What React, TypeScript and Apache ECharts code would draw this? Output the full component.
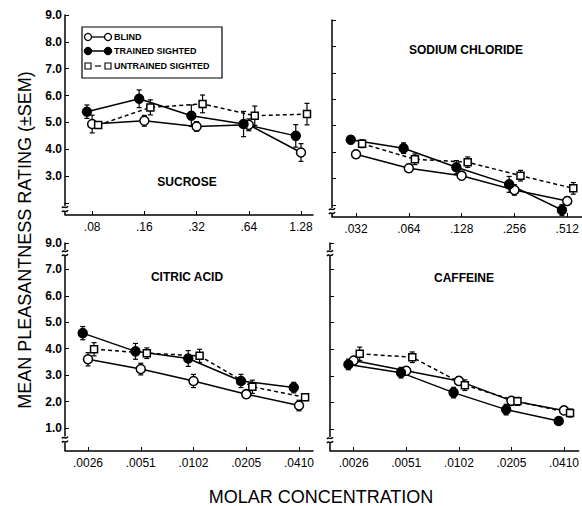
import React, { useEffect, useRef } from 'react';
import * as echarts from 'echarts';

// ---- Data ----
const sucroseLabels = ['.08', '.16', '.32', '.64', '1.28'];
const sodiumLabels = ['.032', '.064', '.128', '.256', '.512'];
const citricLabels = ['.0026', '.0051', '.0102', '.0205', '.0410'];
const caffeineLabels = ['.0026', '.0051', '.0102', '.0205', '.0410'];

const sucroseBlind = [4.94, 5.06, 4.85, 4.91, 3.88];
const sucroseBlindSem = [0.33, 0.2, 0.18, 0.22, 0.33];
const sucroseTrained = [5.4, 5.88, 5.25, 4.94, 4.5];
const sucroseTrainedSem = [0.25, 0.33, 0.4, 0.47, 0.42];
const sucroseUntrained = [4.9, 5.56, 5.69, 5.25, 5.31];
const sucroseUntrainedSem = [0.1, 0.28, 0.33, 0.36, 0.4];

const sodiumBlind = [3.92, 3.39, 3.11, 2.57, 2.15];
const sodiumBlindSem = [0.15, 0.15, 0.15, 0.2, 0.15];
const sodiumTrained = [4.47, 4.15, 3.43, 2.78, 1.81];
const sodiumTrainedSem = [0.15, 0.2, 0.25, 0.3, 0.2];
const sodiumUntrained = [4.32, 3.73, 3.62, 3.11, 2.63];
const sodiumUntrainedSem = [0.15, 0.2, 0.2, 0.2, 0.22];

const citricBlind = [3.6, 3.23, 2.78, 2.28, 1.85];
const citricBlindSem = [0.25, 0.22, 0.25, 0.15, 0.2];
const citricTrained = [4.59, 3.9, 3.63, 2.78, 2.53];
const citricTrainedSem = [0.25, 0.3, 0.3, 0.25, 0.2];
const citricUntrained = [3.98, 3.83, 3.73, 2.56, 2.16];
const citricUntrainedSem = [0.25, 0.2, 0.25, 0.25, 0.12];

const caffeineBlind = [3.58, 3.19, 2.81, 2.06, 1.7];
const caffeineBlindSem = [0.15, 0.15, 0.15, 0.15, 0.12];
const caffeineTrained = [3.43, 3.12, 2.37, 1.73, 1.3];
const caffeineTrainedSem = [0.2, 0.2, 0.2, 0.2, 0.1];
const caffeineUntrained = [3.83, 3.7, 2.65, 2.04, 1.6];
const caffeineUntrainedSem = [0.25, 0.2, 0.2, 0.15, 0.15];

// ---- Layout ----
const FONT = '"Liberation Sans", Arial, Helvetica, sans-serif';
const OFFSETS = { trained: -0.1, blind: 0, untrained: 0.115 };

const panels = [
  {
    title: 'SUCROSE', labels: sucroseLabels,
    blind: sucroseBlind, blindSem: sucroseBlindSem,
    trained: sucroseTrained, trainedSem: sucroseTrainedSem,
    untrained: sucroseUntrained, untrainedSem: sucroseUntrainedSem,
    grid: { left: 65, top: 15, width: 248, height: 188 },
    yMin: 2, yMax: 9, xMin: -0.52, xMax: 4.23, axisOffset: 12,
    showYLabels: true, top: true, titleX: 187, titleY: 182,
  },
  {
    title: 'SODIUM CHLORIDE', labels: sodiumLabels,
    blind: sodiumBlind, blindSem: sodiumBlindSem,
    trained: sodiumTrained, trainedSem: sodiumTrainedSem,
    untrained: sodiumUntrained, untrainedSem: sodiumUntrainedSem,
    grid: { left: 332, top: 20, width: 250, height: 185 },
    yMin: 2, yMax: 9, xMin: -0.455, xMax: 4.28, axisOffset: 12,
    showYLabels: false, top: true, titleX: 466, titleY: 50,
  },
  {
    title: 'CITRIC ACID', labels: citricLabels,
    blind: citricBlind, blindSem: citricBlindSem,
    trained: citricTrained, trainedSem: citricTrainedSem,
    untrained: citricUntrained, untrainedSem: citricUntrainedSem,
    grid: { left: 65, top: 243, width: 248, height: 185 },
    yMin: 1, yMax: 8, xMin: -0.436, xMax: 4.265, axisOffset: 23,
    showYLabels: true, top: false, titleX: 187, titleY: 277,
  },
  {
    title: 'CAFFEINE', labels: caffeineLabels,
    blind: caffeineBlind, blindSem: caffeineBlindSem,
    trained: caffeineTrained, trainedSem: caffeineTrainedSem,
    untrained: caffeineUntrained, untrainedSem: caffeineUntrainedSem,
    grid: { left: 330, top: 243, width: 252, height: 186 },
    yMin: 1, yMax: 8, xMin: -0.45, xMax: 4.28, axisOffset: 22,
    showYLabels: false, top: false, titleX: 464, titleY: 278,
  },
];

function breakMark(x: number, y: number) {
  // white gap and two small S-shaped strokes (axis break)
  return [
    { type: 'rect', shape: { x: x - 4, y: y - 3, width: 8, height: 6 }, style: { fill: '#fff' }, z: 50 },
    {
      type: 'bezierCurve', z: 51,
      shape: { x1: x - 3, y1: y - 1, cpx1: x - 1, cpy1: y - 4, cpx2: x + 1, cpy2: y + 1, x2: x + 3, y2: y - 3 },
      style: { stroke: '#000', lineWidth: 1.4, fill: 'none' },
    },
    {
      type: 'bezierCurve', z: 51,
      shape: { x1: x - 3, y1: y + 3, cpx1: x - 1, cpy1: y, cpx2: x + 1, cpy2: y + 5, x2: x + 3, y2: y + 1 },
      style: { stroke: '#000', lineWidth: 1.4, fill: 'none' },
    },
  ];
}

export default function App() {
  const ref = useRef<HTMLDivElement>(null);

  useEffect(() => {
    if (!ref.current) return;
    const chart = echarts.init(ref.current, undefined, { renderer: 'svg' });

    const grids: any[] = [];
    const xAxes: any[] = [];
    const yAxes: any[] = [];
    const series: any[] = [];
    const graphics: any[] = [];

    panels.forEach((p, i) => {
      grids.push({ ...p.grid, containLabel: false });
      xAxes.push({
        type: 'value', gridIndex: i, min: p.xMin, max: p.xMax,
        offset: p.axisOffset,
        axisLine: { show: true, onZero: false, lineStyle: { color: '#000', width: 1.5 } },
        axisTick: { show: true, inside: true, length: 4, customValues: [0, 1, 2, 3, 4], lineStyle: { color: '#000', width: 1 } },
        axisLabel: {
          show: true, customValues: [0, 1, 2, 3, 4], margin: 6,
          formatter: (v: number) => p.labels[Math.round(v)] ?? '',
          color: '#000', fontSize: 12, fontFamily: FONT,
        },
        splitLine: { show: false },
      });
      yAxes.push({
        type: 'value', gridIndex: i, min: p.yMin, max: p.yMax, interval: 1,
        axisLine: { show: true, onZero: false, lineStyle: { color: '#000', width: 1.5 } },
        axisTick: { show: true, inside: true, length: 4, lineStyle: { color: '#000', width: 1 } },
        axisLabel: {
          show: p.showYLabels, margin: 3,
          formatter: (v: number) => {
            if (p.top) return v === 2 ? '' : v.toFixed(1);
            return v === 8 ? '9.0' : v.toFixed(1);
          },
          color: '#000', fontSize: 12, fontWeight: 'bold', fontFamily: FONT,
        },
        splitLine: { show: false },
      });

      const groups = [
        { key: 'blind', vals: p.blind, sem: p.blindSem, symbol: 'circle', size: 9, fill: '#fff', dash: 'solid' },
        { key: 'trained', vals: p.trained, sem: p.trainedSem, symbol: 'circle', size: 9, fill: '#000', dash: 'solid' },
        { key: 'untrained', vals: p.untrained, sem: p.untrainedSem, symbol: 'rect', size: 7, fill: '#fff', dash: [4, 3] },
      ];
      const names: Record<string, string> = { blind: 'BLIND', trained: 'TRAINED SIGHTED', untrained: 'UNTRAINED SIGHTED' };

      groups.forEach((g) => {
        const off = (OFFSETS as any)[g.key];
        series.push({
          type: 'custom', xAxisIndex: i, yAxisIndex: i, z: 1, clip: false,
          name: names[g.key] + ' SEM',
          data: g.vals.map((v, k) => [k + off, v - g.sem[k], v + g.sem[k]]),
          encode: { x: 0, y: [1, 2] },
          renderItem: (params: any, api: any) => {
            const x = api.value(0);
            const top = api.coord([x, api.value(2)]);
            const bot = api.coord([x, api.value(1)]);
            const w = 2.5;
            const st = { stroke: '#000', lineWidth: 1.2 };
            return {
              type: 'group',
              children: [
                { type: 'line', shape: { x1: top[0], y1: top[1], x2: bot[0], y2: bot[1] }, style: st },
                { type: 'line', shape: { x1: top[0] - w, y1: top[1], x2: top[0] + w, y2: top[1] }, style: st },
                { type: 'line', shape: { x1: bot[0] - w, y1: bot[1], x2: bot[0] + w, y2: bot[1] }, style: st },
              ],
            };
          },
        });
        series.push({
          type: 'line', name: names[g.key], xAxisIndex: i, yAxisIndex: i, z: 3, clip: false,
          data: g.vals.map((v, k) => [k + off, v]),
          symbol: g.symbol, symbolSize: g.size, showSymbol: true,
          lineStyle: { color: '#000', width: 1.5, type: g.dash },
          itemStyle: { color: g.fill, borderColor: '#000', borderWidth: 1.5 },
          emphasis: { disabled: true },
        });
      });

      // connect y axis down to the offset x axis with a break
      const xl = p.grid.left;
      const yb = p.grid.top + p.grid.height;
      const ya = yb + p.axisOffset;
      graphics.push({
        type: 'line', z: 40,
        shape: { x1: xl, y1: yb, x2: xl, y2: ya },
        style: { stroke: '#000', lineWidth: 1.5 },
      });
      graphics.push(...breakMark(xl, (yb + ya) / 2));
      if (!p.top) graphics.push(...breakMark(xl, p.grid.top + 10));

      graphics.push({
        type: 'text', x: p.titleX, y: p.titleY, z: 60,
        style: { text: p.title, fill: '#000', font: `bold 12px ${FONT}`, align: 'center', verticalAlign: 'middle' },
      });
    });

    // legend box
    const lx1 = 88, lx2 = 108, tx = 114;
    const rows = [37, 51, 66];
    graphics.push({
      type: 'rect', z: 60, shape: { x: 82, y: 27, width: 140, height: 51 },
      style: { fill: '#fff', stroke: '#000', lineWidth: 1.2 },
    });
    graphics.push({ type: 'line', z: 61, shape: { x1: lx1, y1: rows[0], x2: lx2, y2: rows[0] }, style: { stroke: '#000', lineWidth: 1.3 } });
    graphics.push({ type: 'circle', z: 62, shape: { cx: lx1, cy: rows[0], r: 3.5 }, style: { fill: '#fff', stroke: '#000', lineWidth: 1.3 } });
    graphics.push({ type: 'circle', z: 62, shape: { cx: lx2, cy: rows[0], r: 3.5 }, style: { fill: '#fff', stroke: '#000', lineWidth: 1.3 } });
    graphics.push({ type: 'line', z: 61, shape: { x1: lx1, y1: rows[1], x2: lx2, y2: rows[1] }, style: { stroke: '#000', lineWidth: 1.5 } });
    graphics.push({ type: 'circle', z: 62, shape: { cx: lx1, cy: rows[1], r: 3.8 }, style: { fill: '#000', stroke: '#000', lineWidth: 1 } });
    graphics.push({ type: 'circle', z: 62, shape: { cx: lx2, cy: rows[1], r: 3.8 }, style: { fill: '#000', stroke: '#000', lineWidth: 1 } });
    graphics.push({ type: 'line', z: 61, shape: { x1: lx1 + 7, y1: rows[2], x2: lx2 - 7, y2: rows[2] }, style: { stroke: '#000', lineWidth: 1.2 } });
    graphics.push({ type: 'rect', z: 62, shape: { x: lx1 - 3, y: rows[2] - 3, width: 6, height: 6 }, style: { fill: '#fff', stroke: '#000', lineWidth: 1.1 } });
    graphics.push({ type: 'rect', z: 62, shape: { x: lx2 - 3, y: rows[2] - 3, width: 6, height: 6 }, style: { fill: '#fff', stroke: '#000', lineWidth: 1.1 } });
    ['BLIND', 'TRAINED SIGHTED', 'UNTRAINED SIGHTED'].forEach((t, k) => {
      graphics.push({
        type: 'text', x: tx, y: rows[k], z: 62,
        style: { text: t, fill: '#000', font: `bold 9px ${FONT}`, align: 'left', verticalAlign: 'middle' },
      });
    });

    // axis titles
    graphics.push({
      type: 'text', x: 25, y: 240, rotation: Math.PI / 2, z: 60,
      style: { text: 'MEAN PLEASANTNESS RATING (±SEM)', fill: '#000', font: `18px ${FONT}`, align: 'center', verticalAlign: 'middle' },
    });
    graphics.push({
      type: 'text', x: 321, y: 497, z: 60,
      style: { text: 'MOLAR CONCENTRATION', fill: '#000', font: `18px ${FONT}`, align: 'center', verticalAlign: 'middle' },
    });

    chart.setOption({
      animation: false,
      backgroundColor: '#fff',
      grid: grids,
      xAxis: xAxes,
      yAxis: yAxes,
      series,
      graphic: graphics,
    });

    return () => chart.dispose();
  }, []);

  return (
    <div
      ref={ref}
      style={{ position: 'fixed', left: 0, top: 0, width: 582, height: 506, background: '#fff' }}
    />
  );
}
